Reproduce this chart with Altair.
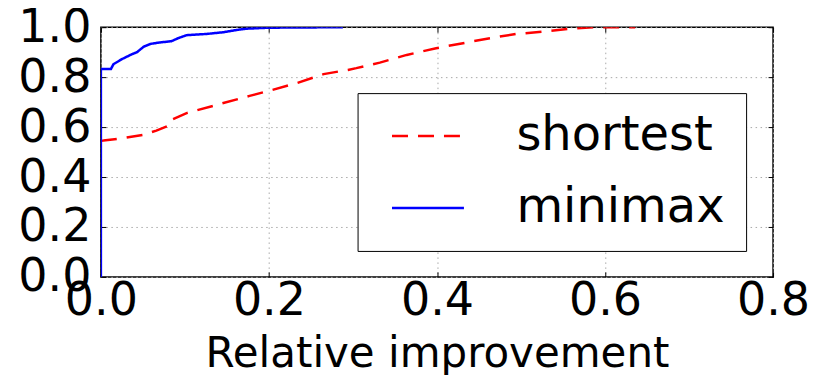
import altair as alt
import pandas as pd

series_names = ["shortest", "minimax"]

shortest_x = [0.0, 0.003, 0.027, 0.051, 0.066, 0.080, 0.084, 0.102, 0.138, 0.177, 0.201, 0.233,
              0.265, 0.294, 0.304, 0.332, 0.364, 0.399, 0.431, 0.463, 0.494, 0.526, 0.558, 0.589, 0.636]
shortest_y = [0.545, 0.546, 0.556, 0.569, 0.586, 0.605, 0.629, 0.656, 0.689, 0.725, 0.746, 0.776,
              0.812, 0.829, 0.836, 0.858, 0.889, 0.916, 0.936, 0.956, 0.973, 0.982, 0.994, 1.0, 1.0]

minimax_x = [0.0, 0.0, 0.012, 0.015, 0.025, 0.037, 0.043, 0.051, 0.059, 0.068, 0.084, 0.092,
             0.102, 0.126, 0.146, 0.162, 0.173, 0.2, 0.288]
minimax_y = [0.0, 0.833, 0.833, 0.852, 0.872, 0.892, 0.9, 0.922, 0.933, 0.938, 0.944, 0.956,
             0.968, 0.973, 0.98, 0.989, 0.994, 0.998, 1.0]

x_ticks = [0.0, 0.2, 0.4, 0.6, 0.8]
y_ticks = [0.0, 0.2, 0.4, 0.6, 0.8, 1.0]

rows = []
for i, (xv, yv) in enumerate(zip(shortest_x, shortest_y)):
    rows.append({"series": "shortest", "x": xv, "y": yv, "i": i})
for i, (xv, yv) in enumerate(zip(minimax_x, minimax_y)):
    rows.append({"series": "minimax", "x": xv, "y": yv, "i": i})
df = pd.DataFrame(rows)

FONT = "DejaVu Sans"
x_scale = alt.Scale(domain=[0, 0.8], nice=False, zero=False)
y_scale = alt.Scale(domain=[0, 1], nice=False)

legend = alt.Legend(
    title=" ", titleOrient="right", titleFontSize=1, titlePadding=15,
    orient="none", legendX=257, legendY=66,
    symbolType="stroke", symbolSize=5184, symbolStrokeWidth=2.5, symbolOffset=26,
    clipHeight=72, rowPadding=0,
    labelFontSize=48, labelFont=FONT, labelColor="black", labelOffset=51, labelLimit=500,
    padding=7, strokeColor="black", fillColor="white", cornerRadius=0,
)

lines = alt.Chart(df).mark_line(strokeWidth=2.5, clip=True).encode(
    x=alt.X("x:Q", scale=x_scale,
            axis=alt.Axis(title="Relative improvement", values=x_ticks, format=".1f",
                          offset=-5, ticks=True, tickSize=5, tickColor="black",
                          labelPadding=2, titlePadding=10, labelFlush=False, labelOverlap=False)),
    y=alt.Y("y:Q", scale=y_scale,
            axis=alt.Axis(title=None, values=y_ticks, format=".1f",
                          offset=-5, ticks=True, tickSize=5, tickColor="black",
                          labelPadding=10, labelFlush=False, labelOverlap=False)),
    color=alt.Color("series:N", scale=alt.Scale(domain=series_names, range=["#ff0000", "#0000ff"]),
                    legend=legend),
    strokeDash=alt.StrokeDash("series:N", scale=alt.Scale(domain=series_names, range=[[16, 10], [1, 0]]),
                              legend=legend),
    order=alt.Order("i:Q"),
)

mirror_ticks = alt.Chart(df).mark_point(opacity=0).encode(
    x=alt.X("x:Q", scale=x_scale,
            axis=alt.Axis(orient="top", title=None, values=x_ticks, labels=False, grid=False,
                          offset=-5, ticks=True, tickSize=5, tickColor="black")),
    y=alt.Y("y:Q", scale=y_scale,
            axis=alt.Axis(orient="right", title=None, values=y_ticks, labels=False, grid=False,
                          offset=-5, ticks=True, tickSize=5, tickColor="black")),
)

chart = alt.layer(lines, mirror_ticks).resolve_axis(
    x="independent", y="independent"
).properties(
    width=673, height=250,
    background="white",
    autosize=alt.AutoSizeParams(type="none"),
    padding={"left": 93, "top": 19, "right": 50, "bottom": 98},
).configure_view(
    stroke="black", strokeWidth=1.5
).configure_axis(
    domain=False,
    grid=True, gridColor="#aaaaaa", gridDash=[1.5, 3.5], gridWidth=1, gridOpacity=1,
    labelFont=FONT, labelFontSize=46, labelColor="black",
    titleFont=FONT, titleFontSize=42, titleFontWeight="normal", titleColor="black",
)

chart.save("out.html", embed_options={"renderer": "svg", "actions": False})
